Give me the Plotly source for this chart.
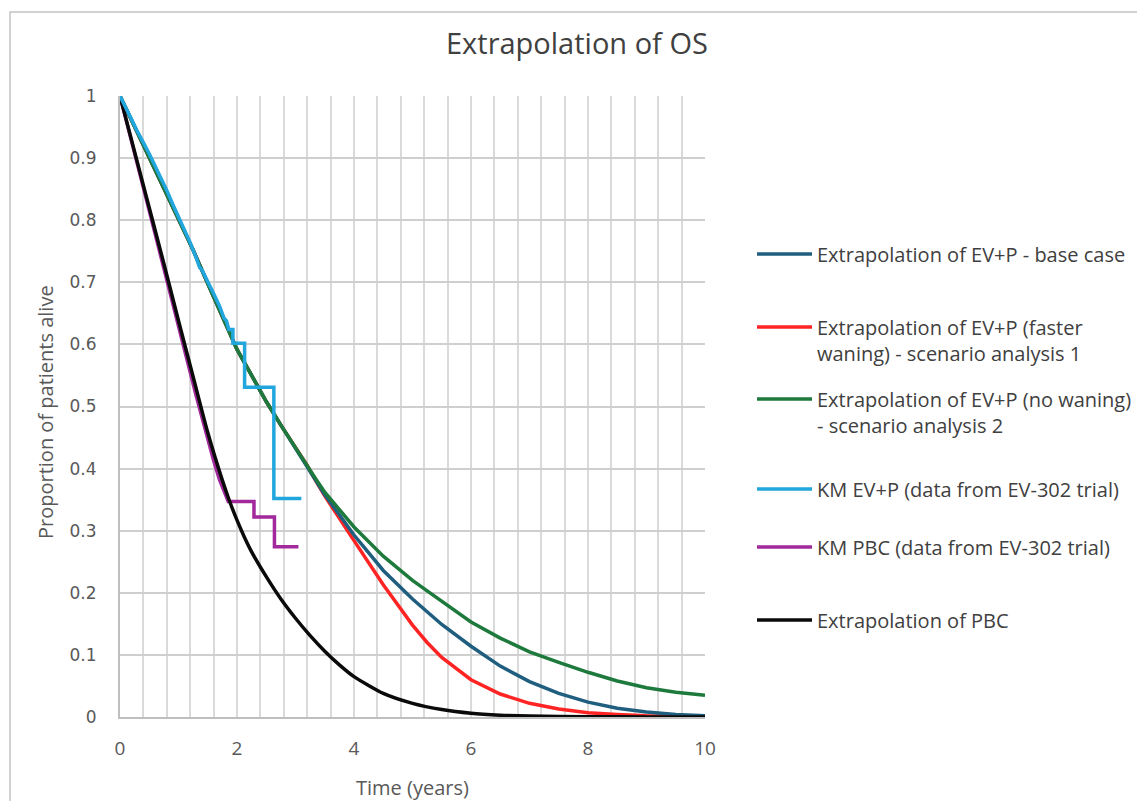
import plotly.graph_objects as go

# ---- data ----
t_ev = [0, 0.25, 0.5, 0.75, 1.0, 1.25, 1.5, 1.75, 2.0, 2.25, 2.5, 2.75, 3.0, 3.2]
s_ev = [1.0, 0.951, 0.902, 0.852, 0.802, 0.752, 0.698, 0.645, 0.592, 0.55, 0.508, 0.47, 0.433, 0.405]

t_tail = [3.2, 3.35, 3.5, 4.0, 4.5, 5.0, 5.25, 5.5, 6.0, 6.5, 7.0, 7.5, 8.0, 8.5, 9.0, 9.5, 10.0]
s_base_tail = [0.405, 0.381, 0.358, 0.293, 0.236, 0.19, 0.169, 0.149, 0.114, 0.082, 0.057, 0.038, 0.024, 0.014, 0.008, 0.004, 0.002]
s_fast_tail = [0.405, 0.38, 0.356, 0.284, 0.213, 0.148, 0.12, 0.096, 0.06, 0.037, 0.022, 0.013, 0.007, 0.004, 0.002, 0.0015, 0.001]
s_now_tail = [0.405, 0.383, 0.362, 0.306, 0.259, 0.22, 0.203, 0.186, 0.153, 0.127, 0.105, 0.088, 0.072, 0.058, 0.047, 0.04, 0.035]

t_pbc = [0, 0.25, 0.5, 0.75, 1.0, 1.25, 1.5, 1.75, 1.875, 2.0, 2.125, 2.25, 2.5, 2.75, 3.0, 3.25, 3.5, 3.75, 4.0, 4.5, 5.0, 5.5, 6.0, 6.5, 7.0, 8.0, 9.0, 10.0]
s_pbc = [1.0, 0.91, 0.82, 0.73, 0.638, 0.548, 0.458, 0.381, 0.347, 0.317, 0.29, 0.266, 0.226, 0.19, 0.159, 0.131, 0.106, 0.084, 0.065, 0.038, 0.022, 0.012, 0.006, 0.003, 0.0015, 0.0005, 0.0002, 0.0]

# Kaplan-Meier estimates (time, survival); repeated times mark the visible drops
t_km_ev = [0, 0.1, 0.2, 0.28, 0.33, 0.4, 0.5, 0.6, 0.7, 0.8, 0.9, 1.0, 1.1, 1.2, 1.3, 1.36, 1.4, 1.5, 1.6, 1.7, 1.78, 1.82, 1.86, 1.93, 1.93, 2.13, 2.13, 2.63, 2.63, 3.10]
s_km_ev = [1.0, 0.982, 0.962, 0.946, 0.938, 0.925, 0.907, 0.888, 0.868, 0.848, 0.826, 0.806, 0.786, 0.764, 0.74, 0.724, 0.72, 0.702, 0.682, 0.662, 0.642, 0.638, 0.624, 0.624, 0.602, 0.602, 0.531, 0.531, 0.352, 0.352]

t_km_pbc = [0, 0.1, 0.2, 0.3, 0.4, 0.5, 0.6, 0.7, 0.8, 0.9, 1.0, 1.1, 1.2, 1.3, 1.4, 1.5, 1.6, 1.7, 1.85, 2.29, 2.29, 2.64, 2.64, 3.05]
s_km_pbc = [1.0, 0.962, 0.926, 0.89, 0.852, 0.815, 0.778, 0.74, 0.702, 0.665, 0.628, 0.592, 0.555, 0.518, 0.482, 0.448, 0.413, 0.382, 0.347, 0.347, 0.322, 0.322, 0.274, 0.274]

names = [
    "Extrapolation of EV+P - base case",
    "Extrapolation of EV+P (faster<br>waning) - scenario analysis 1",
    "Extrapolation of EV+P (no waning)<br>- scenario analysis 2",
    "KM EV+P (data from EV-302 trial)",
    "KM PBC (data from EV-302 trial)",
    "Extrapolation of PBC",
]
colors = ["#1F5E7E", "#FF2424", "#1E7A3C", "#21A6DD", "#A2299C", "#0A0A0A"]

# ---- geometry ----
W, H = 1137, 801
L, R, T, B = 120, 705, 96, 717
pw, ph = R - L, B - T


def px(x):
    return (x - L) / pw


def py(y):
    return 1 - (y - T) / ph


fig = go.Figure()

lw = 3.5
fig.add_trace(go.Scatter(x=t_ev + t_tail[1:], y=s_ev + s_fast_tail[1:], mode="lines",
                         name=names[1], line=dict(color=colors[1], width=lw), legend="legend2"))
fig.add_trace(go.Scatter(x=t_ev + t_tail[1:], y=s_ev + s_base_tail[1:], mode="lines",
                         name=names[0], line=dict(color=colors[0], width=lw), legend="legend"))
fig.add_trace(go.Scatter(x=t_ev + t_tail[1:], y=s_ev + s_now_tail[1:], mode="lines",
                         name=names[2], line=dict(color=colors[2], width=lw), legend="legend3"))
fig.add_trace(go.Scatter(x=t_km_pbc, y=s_km_pbc, mode="lines",
                         name=names[4], line=dict(color=colors[4], width=lw), legend="legend5"))
fig.add_trace(go.Scatter(x=t_pbc, y=s_pbc, mode="lines", line_shape="spline",
                         name=names[5], line=dict(color=colors[5], width=lw, smoothing=0.6), legend="legend6"))
fig.add_trace(go.Scatter(x=t_km_ev, y=s_km_ev, mode="lines",
                         name=names[3], line=dict(color=colors[3], width=lw), legend="legend4"))

legend_font = dict(family="Open Sans", size=20, color="#404040")
leg_y = {"legend": 254, "legend2": 340, "legend3": 412, "legend4": 489, "legend5": 547, "legend6": 620}
for k, yy in leg_y.items():
    fig.update_layout(**{k: dict(x=px(752), y=py(yy), xanchor="left", yanchor="middle",
                                 font=legend_font, bgcolor="rgba(0,0,0,0)", itemwidth=55,
                                 valign="top")})

fig.update_layout(
    width=W, height=H,
    margin=dict(l=L, r=W - R, t=T, b=H - B, autoexpand=False),
    paper_bgcolor="white", plot_bgcolor="white",
    showlegend=True,
    xaxis=dict(range=[0, 10], dtick=2, tick0=0, showgrid=True, gridcolor="#dadada", gridwidth=1.5,
               minor=dict(dtick=0.4, tick0=0, showgrid=True, gridcolor="#dadada", gridwidth=1.5),
               showline=True, linecolor="#bfbfbf", linewidth=2, zeroline=False,
               ticks="", ticklabelstandoff=13,
               tickfont=dict(family="Open Sans", size=19, color="#595959")),
    yaxis=dict(range=[0, 1], dtick=0.1, tick0=0, showgrid=True, gridcolor="#cfcfcf", gridwidth=1.5,
               showline=True, linecolor="#bfbfbf", linewidth=2, zeroline=False,
               ticks="", ticklabelstandoff=18,
               tickfont=dict(family="DejaVu Sans", size=17, color="#595959")),
    annotations=[
        dict(text="Extrapolation of OS", x=px(577), y=py(42), xref="paper", yref="paper",
             showarrow=False, font=dict(family="Open Sans", size=29, color="#404040"),
             xanchor="center", yanchor="middle"),
        dict(text="Time (years)", x=px(412), y=py(787), xref="paper", yref="paper",
             showarrow=False, font=dict(family="Open Sans", size=20, color="#595959"),
             xanchor="center", yanchor="middle"),
        dict(text="Proportion of patients alive", x=px(45), y=py(412), xref="paper", yref="paper",
             showarrow=False, textangle=-90, font=dict(family="Open Sans", size=20, color="#595959"),
             xanchor="center", yanchor="middle"),
    ],
    shapes=[
        dict(type="rect", xref="paper", yref="paper", x0=px(10), y0=py(H + 50), x1=px(W + 50), y1=py(12),
             line=dict(color="#c4c4c4", width=1.5), fillcolor="rgba(0,0,0,0)", layer="below"),
    ],
)

fig.write_html("out.html")
